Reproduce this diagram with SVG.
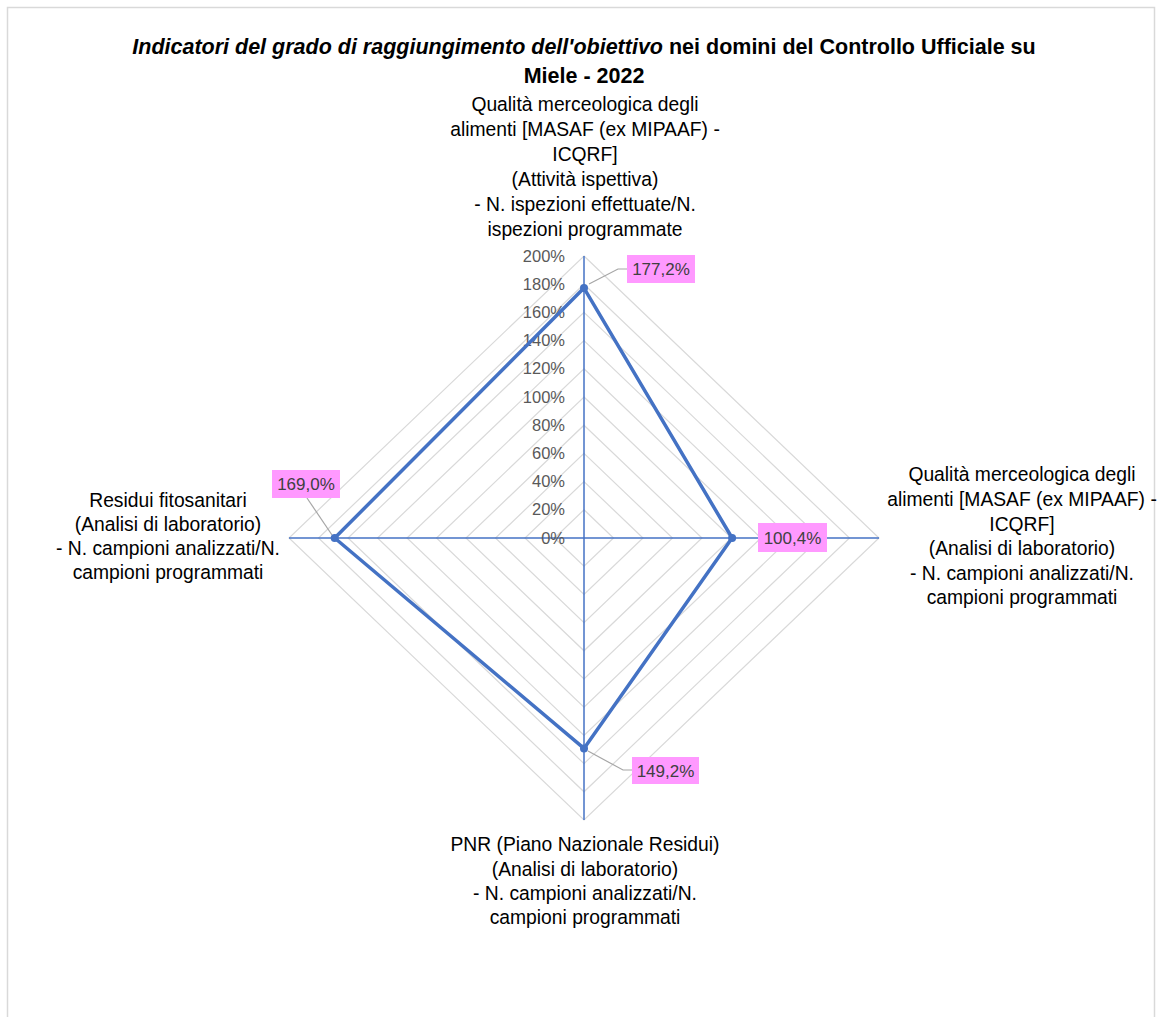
<svg xmlns="http://www.w3.org/2000/svg" width="1159" height="1017" viewBox="0 0 1159 1017">
<style>
.title{font-family:"Liberation Sans",Arial,sans-serif;font-size:21.5px;font-weight:bold;fill:#000;}
.cat{font-family:"Liberation Sans",Arial,sans-serif;font-size:19.3px;fill:#000;text-anchor:middle;}
.tick{font-family:"Liberation Sans",Arial,sans-serif;font-size:16.5px;fill:#595959;text-anchor:end;}
.dl{font-family:"Liberation Sans",Arial,sans-serif;font-size:17px;fill:#404040;text-anchor:middle;}
.grid{fill:none;stroke:#d9d9d9;stroke-width:1.2;}
.axis{stroke:#4472c4;stroke-width:1.5;}
.box{fill:#ff99ff;}
.leader{fill:none;stroke:#a6a6a6;stroke-width:1.2;}
</style>
<rect x="0" y="0" width="1159" height="1017" fill="#fff"/>
<rect x="7.5" y="7.5" width="1147" height="1030" fill="#fff" stroke="#d9d9d9" stroke-width="1.5"/>
<g id="title">
<text class="title" x="584" y="54" text-anchor="middle"><tspan font-style="italic">Indicatori del grado di raggiungimento  dell'obiettivo</tspan> nei domini del Controllo Ufficiale su</text>
<text class="title" x="584" y="83" text-anchor="middle">Miele - 2022</text>
</g>
<g id="grid">
<polygon class="grid" points="584,509.8 613.5,538 584,566.2 554.5,538"/>
<polygon class="grid" points="584,481.6 643,538 584,594.4 525,538"/>
<polygon class="grid" points="584,453.4 672.5,538 584,622.6 495.5,538"/>
<polygon class="grid" points="584,425.2 702,538 584,650.8 466,538"/>
<polygon class="grid" points="584,397 731.5,538 584,679 436.5,538"/>
<polygon class="grid" points="584,368.8 761,538 584,707.2 407,538"/>
<polygon class="grid" points="584,340.6 790.5,538 584,735.4 377.5,538"/>
<polygon class="grid" points="584,312.4 820,538 584,763.6 348,538"/>
<polygon class="grid" points="584,284.2 849.5,538 584,791.8 318.5,538"/>
<polygon class="grid" points="584,256 879,538 584,820 289,538"/>
</g>
<g id="axes">
<line class="axis" x1="584" y1="256" x2="584" y2="820"/>
<line class="axis" x1="289" y1="538" x2="879" y2="538"/>
</g>
<g id="ticks">
<text class="tick" x="565" y="543.5">0%</text>
<text class="tick" x="565" y="515.3">20%</text>
<text class="tick" x="565" y="487.1">40%</text>
<text class="tick" x="565" y="458.9">60%</text>
<text class="tick" x="565" y="430.7">80%</text>
<text class="tick" x="565" y="402.5">100%</text>
<text class="tick" x="565" y="374.3">120%</text>
<text class="tick" x="565" y="346.1">140%</text>
<text class="tick" x="565" y="317.9">160%</text>
<text class="tick" x="565" y="289.7">180%</text>
<text class="tick" x="565" y="261.5">200%</text>
</g>
<g id="connectors">
<polygon points="584,288.1 732.1,538 584,748.4 334.7,538" fill="none" stroke="#4472c4" stroke-width="3.5" stroke-linejoin="round"/>
<polyline class="leader" points="589,284 618,269 627,269"/>
<polyline class="leader" points="588,751 623,770 632,770"/>
<polyline class="leader" points="307,498 332,535"/>
</g>
<g id="point-top"><circle cx="584" cy="288.1" r="4" fill="#4472c4"/></g>
<g id="point-right"><circle cx="732.1" cy="538" r="4" fill="#4472c4"/></g>
<g id="point-bottom"><circle cx="584" cy="748.4" r="4" fill="#4472c4"/></g>
<g id="point-left"><circle cx="334.7" cy="538" r="4" fill="#4472c4"/></g>
<g id="label-top"><rect class="box" x="627" y="255" width="68" height="28"/><text class="dl" x="661" y="275">177,2%</text></g>
<g id="label-right"><rect class="box" x="758" y="523" width="69" height="29"/><text class="dl" x="792.5" y="543.5">100,4%</text></g>
<g id="label-bottom"><rect class="box" x="632" y="757" width="67" height="27"/><text class="dl" x="665.5" y="776.5">149,2%</text></g>
<g id="label-left"><rect class="box" x="272" y="470" width="68" height="28"/><text class="dl" x="306" y="490">169,0%</text></g>
<g id="cat-top">
<text class="cat" x="585" y="111">Qualità merceologica degli</text>
<text class="cat" x="585" y="136">alimenti [MASAF (ex MIPAAF) -</text>
<text class="cat" x="585" y="161">ICQRF]</text>
<text class="cat" x="585" y="186">(Attività ispettiva)</text>
<text class="cat" x="585" y="211">- N. ispezioni effettuate/N.</text>
<text class="cat" x="585" y="236">ispezioni programmate</text>
</g>
<g id="cat-right">
<text class="cat" x="1022" y="481">Qualità merceologica degli</text>
<text class="cat" x="1022" y="506">alimenti [MASAF (ex MIPAAF) -</text>
<text class="cat" x="1022" y="531">ICQRF]</text>
<text class="cat" x="1022" y="555">(Analisi di laboratorio)</text>
<text class="cat" x="1022" y="580">- N. campioni analizzati/N.</text>
<text class="cat" x="1022" y="604">campioni programmati</text>
</g>
<g id="cat-bottom">
<text class="cat" x="585" y="851">PNR (Piano Nazionale Residui)</text>
<text class="cat" x="585" y="876">(Analisi di laboratorio)</text>
<text class="cat" x="585" y="900">- N. campioni analizzati/N.</text>
<text class="cat" x="585" y="924">campioni programmati</text>
</g>
<g id="cat-left">
<text class="cat" x="168" y="507">Residui fitosanitari</text>
<text class="cat" x="168" y="531">(Analisi di laboratorio)</text>
<text class="cat" x="168" y="555">- N. campioni analizzati/N.</text>
<text class="cat" x="168" y="579">campioni programmati</text>
</g>
</svg>
